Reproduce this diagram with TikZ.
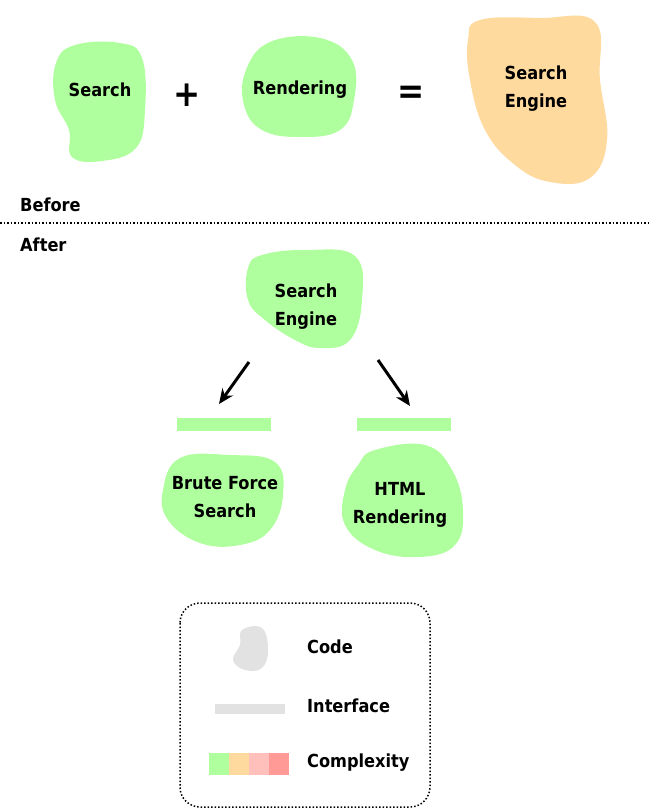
\documentclass[tikz,border=0pt]{standalone}
\usepackage{fontspec}
\setmainfont{DejaVu Sans Condensed}
\begin{document}
\begin{tikzpicture}[x=1pt,y=-1pt,
  lbl/.style={font=\bfseries\fontsize{18}{28}\selectfont,align=center,inner sep=0},
  arr/.style={line width=3pt,-{Stealth[length=15pt,width=13pt]}}]
\usetikzlibrary{arrows.meta}
\definecolor{gfill}{HTML}{B0FF9E}
\definecolor{ofill}{HTML}{FFDA9E}
\definecolor{pfill}{HTML}{FFC0BC}
\definecolor{rfill}{HTML}{FF9A96}
\definecolor{grey}{HTML}{E2E2E2}
\useasboundingbox (0,0) rectangle (648,811);
% Before
\fill[gfill] plot[smooth cycle,tension=0.7] coordinates{(75,45)(120,43)(142,58)(145,110)(136,148)(102,161)(72,157)(69,130)(55,100)(56,63)};
\node[lbl] (s) at (100,90) {Search};
\node[lbl,font=\bfseries\fontsize{36}{36}\selectfont] (plus) at (187,95) {+};
\fill[gfill] plot[smooth cycle,tension=0.7] coordinates{(270,42)(320,38)(352,60)(354,100)(340,130)(300,137)(262,130)(244,105)(246,70)};
\node[lbl] (r) at (300,90) {Rendering};
\node[lbl,font=\bfseries\fontsize{36}{36}\selectfont] (eq) at (411,95) {=};
\fill[ofill] plot[smooth cycle,tension=0.7] coordinates{(480,20)(540,18)(595,22)(600,80)(607,140)(590,178)(550,182)(515,165)(485,130)(470,80)(468,40)};
\node[lbl] (se1) at (536,89) {Search\\Engine};
\node[lbl,anchor=west] (before) at (20,205) {Before};
\draw[dotted,line width=1.5pt] (0,223) -- (648,223);
\node[lbl,anchor=west] (after) at (20,245) {After};
% After
\fill[gfill] plot[smooth cycle,tension=0.7] coordinates{(262,255)(305,250)(355,256)(362,300)(350,340)(320,348)(295,340)(265,320)(248,300)(248,268)};
\node[lbl] (se2) at (306,307) {Search\\Engine};
\coordinate (a1s) at (249,362); \coordinate (a1e) at (219,404);
\coordinate (a2s) at (378,360); \coordinate (a2e) at (410,406);
\draw[arr] (a1s) -- (a1e);
\draw[arr] (a2s) -- (a2e);
\fill[gfill] (177,418) rectangle (271,431);
\fill[gfill] (357,418) rectangle (451,431);
\fill[gfill] plot[smooth cycle,tension=0.7] coordinates{(180,458)(230,455)(275,462)(283,495)(270,530)(240,545)(200,543)(168,520)(163,490)};
\node[lbl] (bf) at (225,497) {Brute Force\\Search};
\fill[gfill] plot[smooth cycle,tension=0.7] coordinates{(375,450)(425,445)(452,470)(463,510)(455,545)(420,557)(375,550)(345,525)(345,490)(358,465)};
\node[lbl] (html) at (400,505) {HTML\\Rendering};
% Legend
\draw[dotted,line width=1.5pt,rounded corners=20pt] (180,603) rectangle (430,807);
\fill[grey] plot[smooth cycle,tension=0.7] coordinates{(242,630)(262,628)(268,650)(262,668)(245,670)(233,660)(240,645)};
\node[lbl,anchor=west] (code) at (307,647) {Code};
\fill[grey] (215,704) rectangle (285,714);
\node[lbl,anchor=west] (intf) at (307,706) {Interface};
\fill[gfill] (209,753) rectangle (229,775);
\fill[ofill] (229,753) rectangle (249,775);
\fill[pfill] (249,753) rectangle (269,775);
\fill[rfill] (269,753) rectangle (289,775);
\node[lbl,anchor=west] (cx) at (307,763) {Complexity};
\end{tikzpicture}
\end{document}
